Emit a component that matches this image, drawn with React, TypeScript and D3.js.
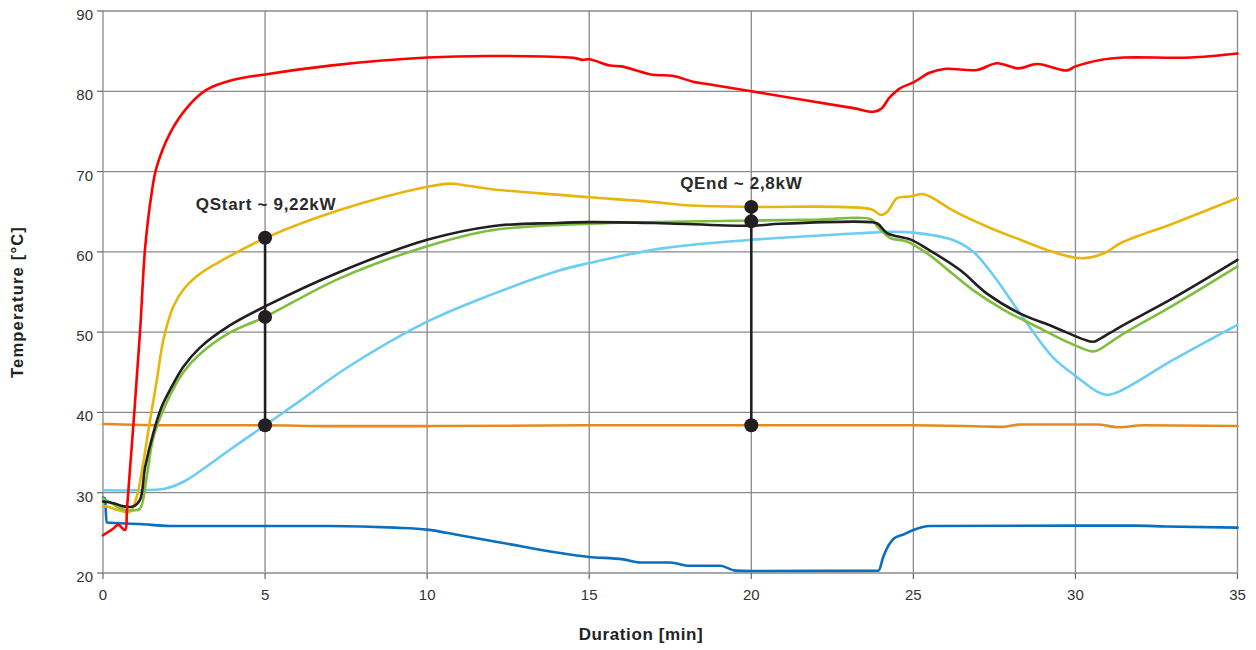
import React, { useEffect, useRef } from "react";
import * as d3 from "d3";

type Pt = [number, number];

// [minute, °C]
const redSeries: Pt[] = [
  [0, 24.7], [0.32, 25.55], [0.47, 26], [0.68, 25.35], [0.74, 28], [1.14, 49.9], [1.3, 60.5],
  [1.5, 67.3], [1.65, 70.5], [2.07, 74.8], [2.6, 78], [3.2, 80.2], [4, 81.4], [5, 82.1],
  [7, 83.2], [10, 84.2], [11.9, 84.4], [14.4, 84.2], [14.6, 84.1], [14.8, 83.9], [15, 84],
  [15.65, 83.2], [16, 83.1], [16.9, 82.1], [17.6, 81.9], [18.2, 81.2], [18.73, 80.85], [20, 80],
  [23.15, 77.9], [23.78, 77.45], [24.03, 77.9], [24.24, 79.1], [24.4, 79.75], [24.6, 80.4],
  [25, 81.1], [25.5, 82.3], [26, 82.8], [26.96, 82.65], [27.58, 83.5], [28.24, 82.85],
  [28.82, 83.4], [29.74, 82.6], [30, 83.1], [30.77, 83.9], [31.48, 84.2], [33.55, 84.2], [35, 84.7],
];

const yellowSeries: Pt[] = [
  [0, 28.3], [0.1, 28.3], [0.5, 27.8], [0.83, 27.6], [1.04, 29.5], [1.22, 33.2], [1.45, 39],
  [1.66, 44], [1.86, 49], [2.17, 53.2], [2.5, 55.4], [3, 57.3], [3.7, 59], [5, 61.7],
  [7.3, 65.2], [10, 68.1], [10.7, 68.5], [11, 68.4], [12, 67.8], [14.1, 67.1], [15, 66.8],
  [17, 66.2], [18, 65.8], [20, 65.6], [23.7, 65.3], [24, 64.6], [24.2, 65], [24.5, 66.7],
  [24.9, 66.9], [25.3, 67.2], [25.6, 66.7], [26.2, 65.2], [27.3, 63.1], [28.3, 61.5],
  [29.3, 60], [30.2, 59.2], [30.9, 59.85], [31.4, 61.1], [33, 63.5], [35, 66.7],
];

const blackSeries: Pt[] = [
  [0, 28.9], [0.32, 28.7], [0.63, 28.3], [0.94, 28.3], [1.14, 29.1], [1.3, 33.2], [1.55, 37.4],
  [1.81, 40.7], [2.12, 43.2], [2.48, 45.7], [3, 48.1], [3.9, 50.8], [5, 53.2], [7.3, 57.5],
  [10, 61.5], [12, 63.2], [14, 63.6], [15, 63.7], [17, 63.6], [20, 63.25], [20.9, 63.5],
  [23.7, 63.7], [23.9, 63.5], [24.2, 62.3], [24.9, 61.55], [25.5, 60.2], [26.45, 57.7],
  [27.27, 54.8], [28.3, 52.3], [29.3, 50.7], [30.25, 49.1], [30.56, 48.8], [30.77, 49.2],
  [31.4, 50.7], [33, 54.2], [35, 59],
];

const greenSeries: Pt[] = [
  [0, 29.3], [0.3, 28.6], [0.62, 27.9], [0.94, 27.8], [1.14, 28], [1.35, 32], [1.55, 36.8],
  [1.96, 41.2], [2.48, 45], [3, 47.3], [3.9, 49.9], [5, 51.9], [7.3, 56.7], [10, 60.7], [12, 62.7],
  [15, 63.5], [17, 63.7], [20, 63.9], [22, 64], [23.7, 64.05], [23.9, 63.1], [24.3, 61.7],
  [24.8, 61.3], [25.5, 59.6], [26.2, 57.3], [26.85, 55.2], [27.8, 52.75], [28.8, 50.7],
  [29.85, 48.6], [30.5, 47.6], [30.67, 47.7], [31.4, 49.6], [33, 53.3], [35, 58.2],
];

const lightBlueSeries: Pt[] = [
  [0, 30.3], [1, 30.3], [1.9, 30.5], [2.5, 31.4], [3, 32.7], [4, 35.6], [5, 38.4], [6.1, 41.5],
  [7.5, 45.5], [10, 51.3], [12, 54.7], [14.1, 57.7], [15, 58.6], [17.2, 60.4], [20, 61.5],
  [23.7, 62.4], [24.2, 62.5], [25, 62.4], [26.2, 61.5], [26.85, 60], [27.5, 56.9], [28.3, 52.3],
  [29.3, 46.9], [30.05, 44.4], [30.67, 42.6], [31, 42.2], [31.4, 42.7], [33, 46.5], [35, 50.9],
];

const orangeSeries: Pt[] = [
  [0, 38.55], [2, 38.4], [5, 38.4], [7, 38.3], [10, 38.3], [15, 38.4], [20, 38.4], [25, 38.4],
  [27.2, 38.25], [27.7, 38.2], [28.3, 38.5], [30, 38.5], [30.67, 38.5], [31.33, 38.15],
  [32.1, 38.4], [35, 38.3],
];

const darkBlueSeries: Pt[] = [
  [0, 29.4], [0.06, 29.3], [0.11, 26.3], [1.14, 26.1], [2.07, 25.85], [7, 25.85], [9, 25.65],
  [10, 25.4], [11, 24.7], [12.25, 23.8], [15, 22], [16.05, 21.7], [16.57, 21.3], [17.5, 21.3],
  [18.1, 20.9], [19.04, 20.9], [19.5, 20.3], [20, 20.25], [23.93, 20.3], [24.07, 22], [24.4, 24.3],
  [24.7, 24.8], [25, 25.35], [25.5, 25.85], [30, 25.9], [31.8, 25.9], [32.8, 25.8], [35, 25.65],
];

// markers for the two power readings
const qStartTime = 5;
const qStartTemps = [61.75, 51.9, 38.4];
const qEndTime = 20;
const qEndTemps = [65.6, 63.8, 38.4];

const xTicks = [0, 5, 10, 15, 20, 25, 30, 35];
const yTicks = [20, 30, 40, 50, 60, 70, 80, 90];

// sharp-edged series use monotone so they don't overshoot
const series = [
  { data: orangeSeries, color: "#e68a1f", sharp: true },
  { data: darkBlueSeries, color: "#0a6fbd", sharp: true },
  { data: lightBlueSeries, color: "#6bcdf3", sharp: false },
  { data: yellowSeries, color: "#e8b50c", sharp: false },
  { data: greenSeries, color: "#7dbf3c", sharp: false },
  { data: blackSeries, color: "#231f20", sharp: false },
  { data: redSeries, color: "#ff0000", sharp: false },
];

const width = 1256;
const height = 650;
const font = "'Liberation Sans', Arial, Helvetica, sans-serif";

const App = () => {
  const svgRef = useRef<SVGSVGElement>(null);

  useEffect(() => {
    const svg = d3.select(svgRef.current);
    svg.selectAll("*").remove();

    const x = d3.scaleLinear().domain([0, 35]).range([103, 1237.5]);
    const y = d3.scaleLinear().domain([20, 90]).range([573, 11]);

    // grid
    const grid = svg.append("g");
    grid
      .selectAll("line.v")
      .data(xTicks)
      .enter()
      .append("line")
      .attr("x1", (d) => x(d))
      .attr("x2", (d) => x(d))
      .attr("y1", y(90))
      .attr("y2", y(20))
      .attr("stroke", "#8a8a8a")
      .attr("stroke-width", 1.3);
    grid
      .selectAll("line.h")
      .data(yTicks.filter((d) => d > 20))
      .enter()
      .append("line")
      .attr("x1", x(0))
      .attr("x2", x(35))
      .attr("y1", (d) => y(d))
      .attr("y2", (d) => y(d))
      .attr("stroke", "#8a8a8a")
      .attr("stroke-width", 1.3);
    grid
      .append("line")
      .attr("x1", x(0))
      .attr("x2", x(35))
      .attr("y1", y(20))
      .attr("y2", y(20))
      .attr("stroke", "#a8a8a8")
      .attr("stroke-width", 2);

    // ticks + labels
    const yAxis = svg.append("g");
    yAxis
      .selectAll("line")
      .data(yTicks)
      .enter()
      .append("line")
      .attr("x1", x(0) - 6)
      .attr("x2", x(0))
      .attr("y1", (d) => y(d))
      .attr("y2", (d) => y(d))
      .attr("stroke", "#666")
      .attr("stroke-width", 1.2);
    yAxis
      .selectAll("text")
      .data(yTicks)
      .enter()
      .append("text")
      .attr("x", 93)
      .attr("y", (d) => y(d) + 9)
      .attr("text-anchor", "end")
      .attr("font-family", font)
      .attr("font-size", 15)
      .attr("fill", "#333")
      .text((d) => d);

    const xAxis = svg.append("g");
    xAxis
      .selectAll("line")
      .data(xTicks)
      .enter()
      .append("line")
      .attr("x1", (d) => x(d))
      .attr("x2", (d) => x(d))
      .attr("y1", y(20))
      .attr("y2", y(20) + 6)
      .attr("stroke", "#666")
      .attr("stroke-width", 1.2);
    xAxis
      .selectAll("text")
      .data(xTicks)
      .enter()
      .append("text")
      .attr("x", (d) => x(d))
      .attr("y", 600)
      .attr("text-anchor", "middle")
      .attr("font-family", font)
      .attr("font-size", 15)
      .attr("fill", "#333")
      .text((d) => d);

    // axis titles
    svg
      .append("text")
      .attr("x", 641)
      .attr("y", 640)
      .attr("text-anchor", "middle")
      .attr("font-family", font)
      .attr("font-size", 17)
      .attr("font-weight", "bold")
      .attr("letter-spacing", 0.6)
      .attr("fill", "#222")
      .text("Duration [min]");
    svg
      .append("text")
      .attr("transform", "translate(23,302) rotate(-90)")
      .attr("text-anchor", "middle")
      .attr("font-family", font)
      .attr("font-size", 16.5)
      .attr("font-weight", "bold")
      .attr("letter-spacing", 1.2)
      .attr("fill", "#222")
      .text("Temperature [°C]");

    // lines
    const smooth = d3
      .line<Pt>()
      .x((d) => x(d[0]))
      .y((d) => y(d[1]))
      .curve(d3.curveCatmullRom.alpha(0.5));
    const sharp = d3
      .line<Pt>()
      .x((d) => x(d[0]))
      .y((d) => y(d[1]))
      .curve(d3.curveMonotoneX);

    svg
      .append("g")
      .selectAll("path")
      .data(series)
      .enter()
      .append("path")
      .attr("d", (s) => (s.sharp ? sharp(s.data) : smooth(s.data)))
      .attr("fill", "none")
      .attr("stroke", (s) => s.color)
      .attr("stroke-width", 2.6)
      .attr("stroke-linejoin", "round")
      .attr("stroke-linecap", "round");

    // power markers
    const markers = [
      { t: qStartTime, temps: qStartTemps, label: "QStart ~ 9,22kW", dx: 1, labelY: 210 },
      { t: qEndTime, temps: qEndTemps, label: "QEnd ~ 2,8kW", dx: -10, labelY: 189 },
    ];
    const mg = svg.append("g");
    markers.forEach((m) => {
      mg.append("line")
        .attr("x1", x(m.t))
        .attr("x2", x(m.t))
        .attr("y1", y(d3.max(m.temps)!))
        .attr("y2", y(d3.min(m.temps)!))
        .attr("stroke", "#231f20")
        .attr("stroke-width", 2.6);
      mg.selectAll(null)
        .data(m.temps)
        .enter()
        .append("circle")
        .attr("cx", x(m.t))
        .attr("cy", (d) => y(d))
        .attr("r", 7)
        .attr("fill", "#231f20");
      mg.append("text")
        .attr("x", x(m.t) + m.dx)
        .attr("y", m.labelY)
        .attr("text-anchor", "middle")
        .attr("font-family", font)
        .attr("font-size", 17)
        .attr("font-weight", "bold")
        .attr("letter-spacing", 0.7)
        .attr("fill", "#2a2a2a")
        .text(m.label);
    });
  }, []);

  return (
    <svg
      ref={svgRef}
      width={width}
      height={height}
      style={{ position: "absolute", left: 0, top: 0, background: "#fff" }}
    ></svg>
  );
};

export default App;
